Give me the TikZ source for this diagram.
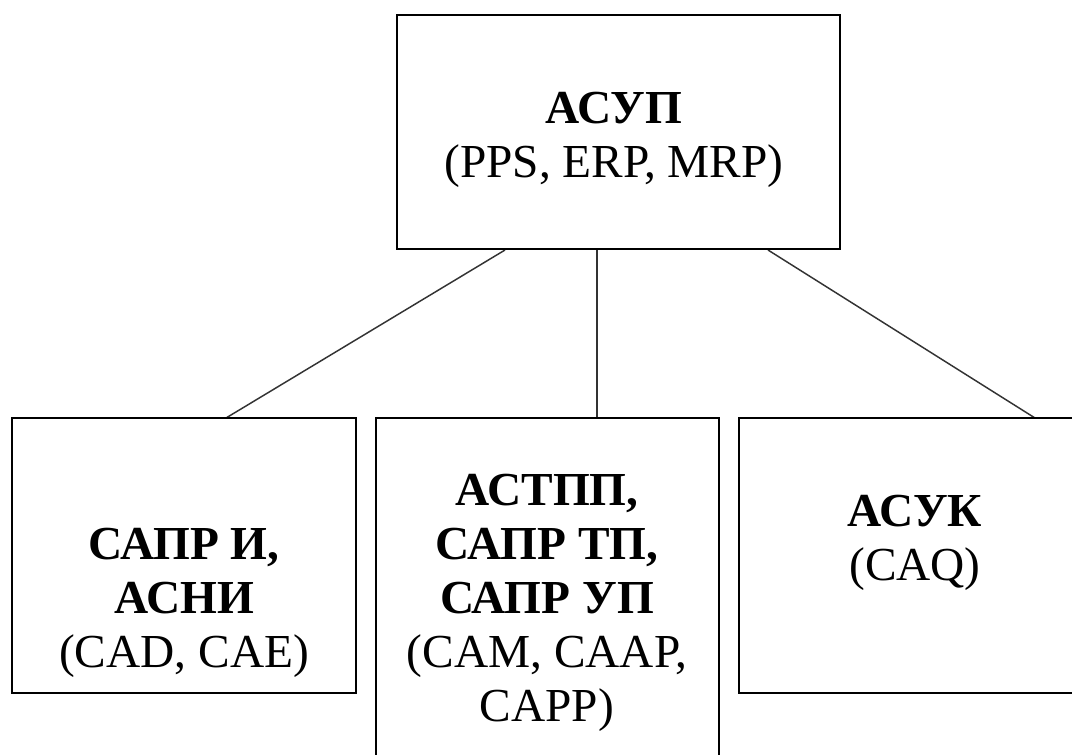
\documentclass[tikz,border=0pt]{standalone}
\usepackage{fontspec}
\setmainfont{Liberation Serif}
\begin{document}
\begin{tikzpicture}[x=0.75pt,y=-0.75pt,
  box/.style={draw=black,line width=1.6pt,fill=white},
  lbl/.style={align=center,font=\fontsize{35.5}{40.5}\selectfont,inner sep=0pt},
  conn/.style={draw=black!80,line width=1.1pt}]
\useasboundingbox (0,0) rectangle (1072,754);
\clip (0,0) rectangle (1072,754);
\fill[white] (0,0) rectangle (1072,754);
% connectors
\coordinate (t1) at (505,250);
\coordinate (t2) at (597,250);
\coordinate (t3) at (768,250);
\coordinate (b1) at (226,418);
\coordinate (b2) at (597,418);
\coordinate (b3) at (1035,418);
\draw[conn] (t1) -- (b1);
\draw[conn] (t2) -- (b2);
\draw[conn] (t3) -- (b3);
% boxes
\draw[box] (397,15) rectangle (840,249);
\draw[box] (12,418) rectangle (356,693);
\draw[box] (376,418) rectangle (719,780);
\draw[box] (739,418) rectangle (1100,693);
% texts
\node[lbl] (top) at (614,140) {\textbf{АСУП}\\(PPS, ERP, MRP)};
\node[lbl] (left) at (184,603) {\textbf{САПР И,}\\\textbf{АСНИ}\\(CAD, CAE)};
\node[lbl] (mid) at (547,603) {\textbf{АСТПП,}\\\textbf{САПР ТП,}\\\textbf{САПР УП}\\(CAM, CAAP,\\CAPP)};
\node[lbl] (right) at (915,543) {\textbf{АСУК}\\(CAQ)};
\end{tikzpicture}
\end{document}
